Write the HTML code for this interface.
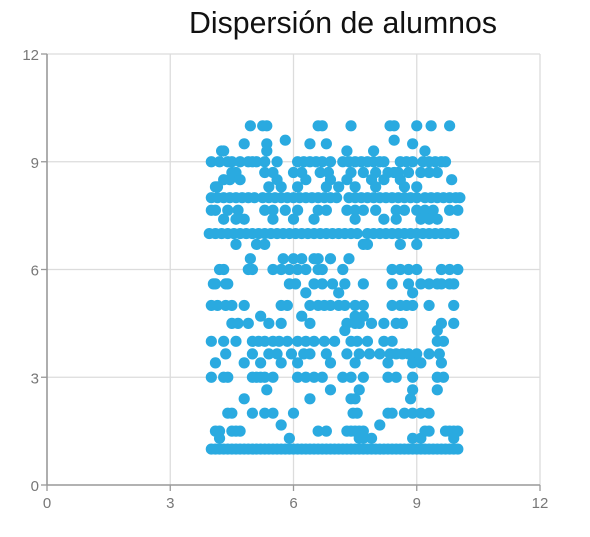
<!DOCTYPE html>
<html><head><meta charset="utf-8">
<style>
html,body{margin:0;padding:0;background:#fff;}
svg{display:block;}
text{font-family:"Liberation Sans",sans-serif;}
</style></head>
<body>
<svg id="chart" width="590" height="537" viewBox="0 0 590 537" xmlns="http://www.w3.org/2000/svg">
<text x="343" y="33" text-anchor="middle" font-size="31" textLength="308" lengthAdjust="spacingAndGlyphs" fill="#111">Dispersión de alumnos</text>
<g id="grid"></g>
<g id="axes"></g>
<g id="points"></g>
</svg>
<script>
const xTicks = [0, 3, 6, 9, 12];
const yTicks = [0, 3, 6, 9, 12];
const yLevels = [10, 9.6, 9.5, 9.3, 9, 8.7, 8.5, 8.3, 8, 7.65, 7.4, 7, 6.7, 6.3, 6, 5.6, 5.35, 5, 4.7, 4.5, 4.3, 4, 3.65, 3.4, 3, 2.65, 2.4, 2, 1.67, 1.5, 1.3, 1];
const xByLevel = [
 [4.95,5.25,5.35,6.6,6.7,7.4,8.35,8.45,9.0,9.35,9.8],
 [5.8,8.45],
 [4.8,5.35,6.4,6.8,8.9],
 [4.25,4.3,5.35,7.3,7.95,9.2],
 [4.0,4.2,4.4,4.5,4.7,4.9,5.0,5.1,5.3,5.6,6.1,6.25,6.4,6.55,6.7,6.9,7.2,7.35,7.5,7.65,7.8,7.95,8.1,8.2,8.6,8.75,8.9,9.15,9.3,9.45,9.6,9.7],
 [4.5,4.6,5.3,5.5,6.0,6.2,6.65,6.85,7.4,7.7,8.0,8.3,8.45,8.55,8.8,9.1,9.3,9.5],
 [4.3,4.45,4.7,5.6,6.3,6.9,7.3,7.9,8.2,8.6,9.85],
 [4.1,4.15,5.4,5.7,6.1,6.8,7.1,7.5,8.0,8.7,9.0],
 [4.0,4.15,4.3,4.45,4.6,4.75,4.9,5.05,5.25,5.4,5.55,5.7,5.85,6.0,6.15,6.3,6.45,6.6,6.75,6.9,7.05,7.35,7.5,7.65,7.8,7.95,8.1,8.25,8.4,8.55,8.7,8.85,9.0,9.2,9.35,9.5,9.65,9.8,9.95,10.05],
 [4.0,4.1,4.4,4.65,5.3,5.5,5.8,6.1,6.6,6.8,7.3,7.5,7.7,8.0,8.5,8.7,9.0,9.2,9.4,9.8,10.0],
 [4.3,4.6,4.8,5.5,6.0,6.5,7.5,8.2,8.5,9.1,9.3,9.5],
 [3.95,4.1,4.25,4.4,4.55,4.7,4.85,5.0,5.15,5.3,5.45,5.6,5.75,5.9,6.05,6.2,6.35,6.5,6.65,6.8,6.95,7.1,7.25,7.4,7.55,7.8,7.95,8.1,8.25,8.4,8.55,8.7,8.85,9.0,9.15,9.3,9.45,9.6,9.75,9.9],
 [4.6,5.1,5.3,7.7,7.8,8.6,9.0],
 [4.95,5.75,6.0,6.2,6.5,6.6,6.9,7.35],
 [4.2,4.3,4.9,5.0,5.5,5.7,5.9,6.1,6.3,6.6,6.7,7.2,8.4,8.6,8.8,9.0,9.6,9.8,10.0],
 [4.05,4.1,4.35,4.4,5.9,6.05,6.5,6.7,6.95,7.25,7.7,8.4,8.8,9.1,9.3,9.5,9.6,9.8,9.9],
 [6.3,7.1,8.9],
 [4.0,4.15,4.35,4.5,4.8,5.7,5.85,6.4,6.6,6.75,6.9,7.1,7.25,7.5,7.7,8.4,8.6,8.75,8.9,9.3,9.9],
 [5.2,6.2,7.5,7.7],
 [4.5,4.65,4.9,5.4,5.7,6.4,7.3,7.5,7.6,7.9,8.2,8.5,8.65,9.6,9.9],
 [7.25,9.5],
 [4.0,4.3,4.6,5.0,5.15,5.3,5.5,5.65,5.85,6.1,6.3,6.5,6.75,7.0,7.4,7.55,7.8,8.2,8.4,9.5,9.65],
 [4.35,5.0,5.4,5.6,5.95,6.25,6.4,6.8,7.3,7.6,7.85,8.1,8.35,8.5,8.65,8.8,9.0,9.3,9.55],
 [4.1,4.8,5.2,5.7,6.1,6.9,7.5,8.3,8.9,9.1,9.6],
 [4.0,4.3,4.4,5.0,5.1,5.2,5.3,5.5,6.1,6.3,6.5,6.7,7.2,7.4,7.7,8.3,8.5,8.9,9.5,9.65],
 [5.35,6.9,7.6,8.9,9.5],
 [4.8,6.4,7.4,7.5,8.85],
 [4.4,4.5,5.0,5.3,5.5,6.0,7.45,7.55,8.3,8.4,8.7,8.9,9.1,9.3],
 [5.7,8.1],
 [4.1,4.2,4.5,4.6,4.7,6.6,6.8,7.3,7.4,7.5,7.6,7.7,9.2,9.3,9.7,9.8,9.9,10.0],
 [4.2,5.9,7.6,7.7,7.9,8.9,9.1,9.9],
 [4.0,4.1,4.2,4.3,4.4,4.5,4.6,4.7,4.8,4.9,5.0,5.1,5.2,5.3,5.4,5.5,5.6,5.7,5.8,5.9,6.0,6.1,6.2,6.3,6.4,6.5,6.6,6.7,6.8,6.9,7.0,7.1,7.2,7.3,7.4,7.5,7.6,7.7,7.8,7.9,8.0,8.1,8.2,8.3,8.4,8.5,8.6,8.7,8.8,8.9,9.0,9.1,9.2,9.3,9.4,9.5,9.6,9.7,9.8,9.9,10.0]
];

const NS = "http://www.w3.org/2000/svg";
const X0 = 47, X1 = 540, Y0 = 485, Y1 = 54;
function xScale(v){ return X0 + (v / 12) * (X1 - X0); }
function yScale(v){ return Y0 - (v / 12) * (Y0 - Y1); }
function mk(tag, attrs, parent){
  const e = document.createElementNS(NS, tag);
  for (const k in attrs) e.setAttribute(k, attrs[k]);
  parent.appendChild(e);
  return e;
}
const grid = document.getElementById('grid');
const axes = document.getElementById('axes');
const pts = document.getElementById('points');

xTicks.forEach(t => {
  if (t > 0) {
    const g = mk('line', {x1: xScale(t), x2: xScale(t), y1: Y1, y2: Y0, stroke: '#dcdcdc', 'stroke-width': 1.3}, grid);
    
    
  }
  const tk = mk('line', {x1: xScale(t), x2: xScale(t), y1: Y0, y2: Y0 + 6, stroke: '#999', 'stroke-width': 1.3}, axes);
  
  
  const lb = mk('text', {x: xScale(t), y: Y0 + 23, 'text-anchor': 'middle', 'font-size': 15, fill: '#777'}, axes);
  lb.textContent = t;
  
  
});
yTicks.forEach(t => {
  if (t > 0) {
    const g = mk('line', {x1: X0, x2: X1, y1: yScale(t), y2: yScale(t), stroke: '#dcdcdc', 'stroke-width': 1.3}, grid);
    
    
  }
  const tk = mk('line', {x1: X0 - 6, x2: X0, y1: yScale(t), y2: yScale(t), stroke: '#999', 'stroke-width': 1.3}, axes);
  
  
  const lb = mk('text', {x: X0 - 8, y: yScale(t) + 6, 'text-anchor': 'end', 'font-size': 15, fill: '#777'}, axes);
  lb.textContent = t;
  
  
});
const xa = mk('line', {x1: X0, x2: X1, y1: Y0, y2: Y0, stroke: '#999', 'stroke-width': 1.6}, axes);


const ya = mk('line', {x1: X0, x2: X0, y1: Y1, y2: Y0, stroke: '#999', 'stroke-width': 1.6}, axes);



yLevels.forEach((yv, i) => {
  xByLevel[i].forEach(xv => {
    const c = mk('circle', {cx: xScale(xv), cy: yScale(yv), r: 5.6, fill: '#2aaae0'}, pts);
    
    
  });
});
</script>
</body></html>
